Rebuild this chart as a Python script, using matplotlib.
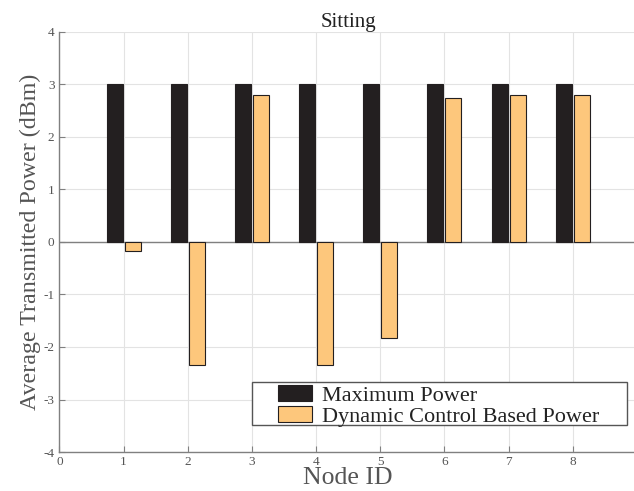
import matplotlib
matplotlib.use("Agg")
import matplotlib.pyplot as plt
from matplotlib.patches import Rectangle
import numpy as np

node_ids = [1, 2, 3, 4, 5, 6, 7, 8]
max_power = [3, 3, 3, 3, 3, 3, 3, 3]
dynamic_power = [-0.17, -2.35, 2.8, -2.35, -1.82, 2.75, 2.8, 2.8]

plt.rcParams["font.family"] = ["Liberation Serif", "DejaVu Serif"]
plt.rcParams["axes.unicode_minus"] = False

fig = plt.figure(figsize=(6.34, 4.91), dpi=100)
ax = fig.add_axes([0.0937, 0.0794, 0.911, 0.8556])

x = np.array(node_ids)
bar_width = 0.25

ax.bar(x - 0.14, max_power, bar_width, color="#231f20", edgecolor="#231f20",
       linewidth=0.8, label="Maximum Power", zorder=3)
ax.bar(x + 0.14, dynamic_power, bar_width, color="#fdc77c", edgecolor="#231f20",
       linewidth=0.8, label="Dynamic Control Based Power", zorder=3)

ax.axhline(0, color="#808080", linewidth=1.0, zorder=2)

ax.set_xlim(0, 9)
ax.set_ylim(-4, 4)
ax.set_xticks(range(0, 9))
ax.set_yticks(range(-4, 5))
ax.grid(True, color="#e3e3e3", linewidth=0.8, zorder=0)

for side in ["top", "right"]:
    ax.spines[side].set_visible(False)
for side in ["left", "bottom"]:
    ax.spines[side].set_color("#808080")
    ax.spines[side].set_linewidth(1.0)

ax.tick_params(direction="in", length=4, width=0.8, colors="#808080",
               labelcolor="#555555", labelsize=9.5)
ax.tick_params(axis="x", pad=3)

ax.set_title("Sitting", fontsize=15, color="#222222", pad=3)
ax.set_xlabel("Node ID", fontsize=18.5, color="#555555", labelpad=-1)
ax.set_ylabel("Average Transmitted Power (dBm)", fontsize=17.3, color="#555555", labelpad=2)

# legend box drawn separately so it can be wider than its contents
frame = Rectangle((0.3334, 0.0643), 0.649, 0.1024, transform=ax.transAxes,
                  facecolor="white", edgecolor="#555555", linewidth=1.0, zorder=4)
ax.add_patch(frame)

leg = ax.legend(loc="upper left", bbox_to_anchor=(0.3785, 0.159), fontsize=16,
                frameon=False, borderpad=0, labelspacing=0.02, handlelength=1.53,
                handleheight=0.7, handletextpad=0.45, borderaxespad=0)
leg.set_zorder(5)
for t in leg.get_texts():
    t.set_color("#222222")

fig.savefig("out.png", dpi=100)
